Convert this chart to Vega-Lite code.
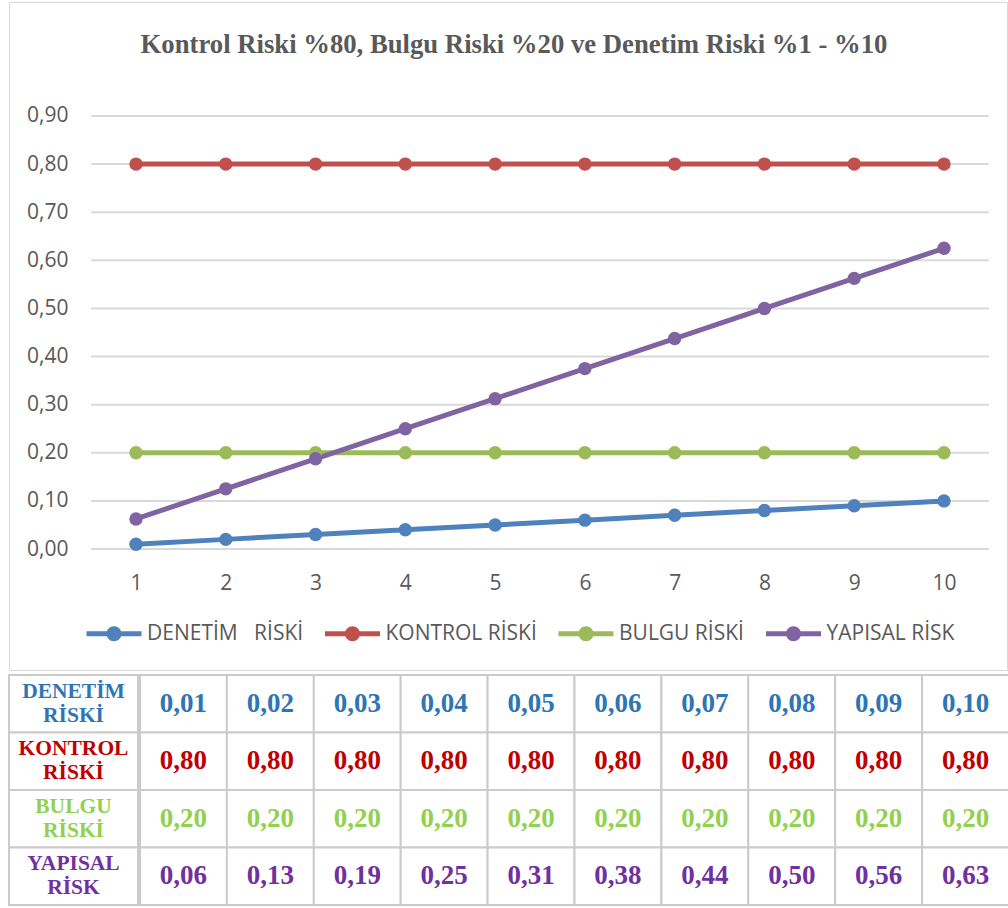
{
  "$schema": "https://vega.github.io/schema/vega-lite/v6.json",
  "padding": {"left": 8, "top": 1, "right": 0, "bottom": 0},
  "autosize": {"type": "pad"},
  "background": "white",
  "config": {
    "view": {"stroke": null},
    "locale": {"number": {"decimal": ",", "thousands": ".", "grouping": [3], "currency": ["", ""]}},
    "font": "Open Sans"
  },
  "datasets": {
    "risk": [
      {"series": "DENETİM\u00a0\u00a0\u00a0RİSKİ", "x": 1, "value": 0.01},
      {"series": "DENETİM\u00a0\u00a0\u00a0RİSKİ", "x": 2, "value": 0.02},
      {"series": "DENETİM\u00a0\u00a0\u00a0RİSKİ", "x": 3, "value": 0.03},
      {"series": "DENETİM\u00a0\u00a0\u00a0RİSKİ", "x": 4, "value": 0.04},
      {"series": "DENETİM\u00a0\u00a0\u00a0RİSKİ", "x": 5, "value": 0.05},
      {"series": "DENETİM\u00a0\u00a0\u00a0RİSKİ", "x": 6, "value": 0.06},
      {"series": "DENETİM\u00a0\u00a0\u00a0RİSKİ", "x": 7, "value": 0.07},
      {"series": "DENETİM\u00a0\u00a0\u00a0RİSKİ", "x": 8, "value": 0.08},
      {"series": "DENETİM\u00a0\u00a0\u00a0RİSKİ", "x": 9, "value": 0.09},
      {"series": "DENETİM\u00a0\u00a0\u00a0RİSKİ", "x": 10, "value": 0.10},
      {"series": "KONTROL RİSKİ", "x": 1, "value": 0.8},
      {"series": "KONTROL RİSKİ", "x": 2, "value": 0.8},
      {"series": "KONTROL RİSKİ", "x": 3, "value": 0.8},
      {"series": "KONTROL RİSKİ", "x": 4, "value": 0.8},
      {"series": "KONTROL RİSKİ", "x": 5, "value": 0.8},
      {"series": "KONTROL RİSKİ", "x": 6, "value": 0.8},
      {"series": "KONTROL RİSKİ", "x": 7, "value": 0.8},
      {"series": "KONTROL RİSKİ", "x": 8, "value": 0.8},
      {"series": "KONTROL RİSKİ", "x": 9, "value": 0.8},
      {"series": "KONTROL RİSKİ", "x": 10, "value": 0.8},
      {"series": "BULGU RİSKİ", "x": 1, "value": 0.2},
      {"series": "BULGU RİSKİ", "x": 2, "value": 0.2},
      {"series": "BULGU RİSKİ", "x": 3, "value": 0.2},
      {"series": "BULGU RİSKİ", "x": 4, "value": 0.2},
      {"series": "BULGU RİSKİ", "x": 5, "value": 0.2},
      {"series": "BULGU RİSKİ", "x": 6, "value": 0.2},
      {"series": "BULGU RİSKİ", "x": 7, "value": 0.2},
      {"series": "BULGU RİSKİ", "x": 8, "value": 0.2},
      {"series": "BULGU RİSKİ", "x": 9, "value": 0.2},
      {"series": "BULGU RİSKİ", "x": 10, "value": 0.2},
      {"series": "YAPISAL RİSK", "x": 1, "value": 0.0625},
      {"series": "YAPISAL RİSK", "x": 2, "value": 0.125},
      {"series": "YAPISAL RİSK", "x": 3, "value": 0.1875},
      {"series": "YAPISAL RİSK", "x": 4, "value": 0.25},
      {"series": "YAPISAL RİSK", "x": 5, "value": 0.3125},
      {"series": "YAPISAL RİSK", "x": 6, "value": 0.375},
      {"series": "YAPISAL RİSK", "x": 7, "value": 0.4375},
      {"series": "YAPISAL RİSK", "x": 8, "value": 0.5},
      {"series": "YAPISAL RİSK", "x": 9, "value": 0.5625},
      {"series": "YAPISAL RİSK", "x": 10, "value": 0.625}
    ],
    "rows": [
      {"series": "DENETİM\u00a0\u00a0\u00a0RİSKİ", "label": ["DENETİM", "RİSKİ"]},
      {"series": "KONTROL RİSKİ", "label": ["KONTROL", "RİSKİ"]},
      {"series": "BULGU RİSKİ", "label": ["BULGU", "RİSKİ"]},
      {"series": "YAPISAL RİSK", "label": ["YAPISAL", "RİSK"]}
    ],
    "grid": [
      {"tick": 0}, {"tick": 0.1}, {"tick": 0.2}, {"tick": 0.3}, {"tick": 0.4},
      {"tick": 0.5}, {"tick": 0.6}, {"tick": 0.7}, {"tick": 0.8}, {"tick": 0.9}
    ]
  },
  "spacing": 3,
  "vconcat": [
    {
      "width": 998,
      "height": 668,
      "view": {"stroke": "#D9D9D9", "strokeWidth": 1},
      "title": {
        "text": "Kontrol Riski %80, Bulgu Riski %20 ve Denetim Riski %1 - %10",
        "font": "Liberation Serif",
        "fontSize": 26.7,
        "fontWeight": "bold",
        "color": "#595959",
        "anchor": "middle",
        "frame": "group",
        "offset": -57,
        "dx": 6
      },
      "layer": [
        {
          "data": {"name": "grid"},
          "mark": {"type": "rule", "color": "#D9D9D9", "strokeWidth": 2},
          "encoding": {
            "x": {"datum": 0.5, "type": "quantitative"},
            "x2": {"datum": 10.5},
            "y": {"field": "tick", "type": "quantitative"}
          }
        },
        {
          "data": {"name": "risk"},
          "encoding": {
            "x": {
              "field": "x",
              "type": "quantitative",
              "scale": {"domain": [-0.4146, 10.7017], "nice": false, "zero": false},
              "axis": {
                "values": [1, 2, 3, 4, 5, 6, 7, 8, 9, 10],
                "format": "d",
                "labelAngle": 0,
                "labelFont": "Open Sans",
                "labelFontSize": 21,
                "labelColor": "#595959",
                "labelPadding": 0,
                "offset": -98,
                "domain": false,
                "ticks": false,
                "tickSize": 0,
                "grid": false,
                "title": null
              }
            },
            "y": {
              "field": "value",
              "type": "quantitative",
              "scale": {"domain": [-0.2515, 1.13695], "nice": false, "zero": false},
              "axis": {
                "values": [0, 0.1, 0.2, 0.3, 0.4, 0.5, 0.6, 0.7, 0.8, 0.9],
                "format": ".2f",
                "labelFont": "Open Sans",
                "labelFontSize": 21,
                "labelColor": "#595959",
                "labelPadding": 0,
                "offset": -59,
                "domain": false,
                "ticks": false,
                "tickSize": 0,
                "grid": false,
                "title": null
              }
            },
            "color": {
              "field": "series",
              "type": "nominal",
              "scale": {
                "domain": ["DENETİM\u00a0\u00a0\u00a0RİSKİ", "KONTROL RİSKİ", "BULGU RİSKİ", "YAPISAL RİSK"],
                "range": ["#4F81BD", "#C0504D", "#9BBB59", "#8064A2"]
              },
              "legend": {
                "orient": "none",
                "legendX": 94.5,
                "legendY": 621,
                "direction": "horizontal",
                "columns": 4,
                "title": null,
                "padding": 0,
                "labelFont": "Open Sans",
                "labelFontSize": 21,
                "labelColor": "#595959",
                "labelOffset": 22.5,
                "labelLimit": 400,
                "columnPadding": 21.5,
                "symbolSize": 400,
                "symbolOpacity": 1,
                "symbolStrokeWidth": 0,
                "symbolType": "M-2.75,-0.25 L2.75,-0.25 L2.75,0.25 L-2.75,0.25 Z M-0.75,0 A0.75,0.75 0 1,1 0.75,0 A0.75,0.75 0 1,1 -0.75,0 Z"
              }
            }
          },
          "layer": [
            {"mark": {"type": "line", "strokeWidth": 5}},
            {"mark": {"type": "point", "filled": true, "size": 180, "opacity": 1}}
          ]
        }
      ]
    },
    {
      "spacing": 0,
      "hconcat": [
        {
          "width": 129,
          "height": 230,
          "data": {"name": "rows"},
          "encoding": {
            "y": {
              "field": "series",
              "type": "nominal",
              "scale": {
                "domain": ["DENETİM\u00a0\u00a0\u00a0RİSKİ", "KONTROL RİSKİ", "BULGU RİSKİ", "YAPISAL RİSK"],
                "paddingInner": 0,
                "paddingOuter": 0
              },
              "axis": null
            }
          },
          "layer": [
            {
              "mark": {"type": "rect", "fill": "white", "stroke": "#CBCBCB", "strokeWidth": 2}
            },
            {
              "mark": {
                "type": "text",
                "font": "Liberation Serif",
                "fontWeight": "bold",
                "fontSize": 21.5,
                "lineHeight": 24,
                "dy": -12,
                "align": "center",
                "baseline": "middle"
              },
              "encoding": {
                "text": {"field": "label"},
                "fill": {
                  "field": "series",
                  "type": "nominal",
                  "scale": {
                    "domain": ["DENETİM\u00a0\u00a0\u00a0RİSKİ", "KONTROL RİSKİ", "BULGU RİSKİ", "YAPISAL RİSK"],
                    "range": ["#2E75B6", "#C00000", "#92D050", "#7030A0"]
                  },
                  "legend": null
                }
              }
            }
          ]
        },
        {
          "width": 869,
          "height": 230,
          "data": {"name": "risk"},
          "encoding": {
            "x": {
              "field": "x",
              "type": "ordinal",
              "scale": {"paddingInner": 0, "paddingOuter": 0},
              "axis": null
            },
            "y": {
              "field": "series",
              "type": "nominal",
              "scale": {
                "domain": ["DENETİM\u00a0\u00a0\u00a0RİSKİ", "KONTROL RİSKİ", "BULGU RİSKİ", "YAPISAL RİSK"],
                "paddingInner": 0,
                "paddingOuter": 0
              },
              "axis": null
            }
          },
          "layer": [
            {
              "mark": {"type": "rect", "fill": "white", "stroke": "#CBCBCB", "strokeWidth": 2}
            },
            {
              "mark": {
                "type": "text",
                "font": "Liberation Serif",
                "fontWeight": "bold",
                "fontSize": 27,
                "align": "center",
                "baseline": "middle"
              },
              "encoding": {
                "text": {"field": "value", "type": "quantitative", "format": ".2f"},
                "fill": {
                  "field": "series",
                  "type": "nominal",
                  "scale": {
                    "domain": ["DENETİM\u00a0\u00a0\u00a0RİSKİ", "KONTROL RİSKİ", "BULGU RİSKİ", "YAPISAL RİSK"],
                    "range": ["#2E75B6", "#C00000", "#92D050", "#7030A0"]
                  },
                  "legend": null
                }
              }
            }
          ]
        }
      ]
    }
  ]
}
